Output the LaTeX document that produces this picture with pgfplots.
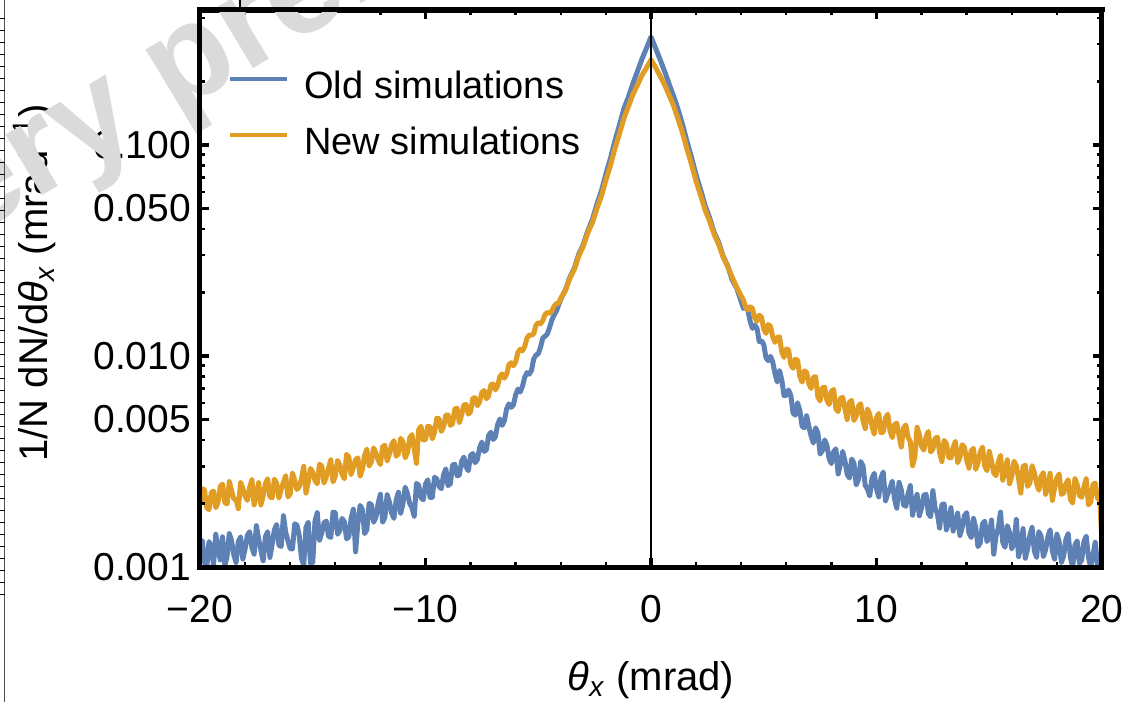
\documentclass[border=0pt]{standalone}
\usepackage{fontspec}
\setmainfont{Liberation Sans}
\usepackage{pgfplots}
\pgfplotsset{compat=1.18}
\usepackage{pgfplotstable}
\definecolor{mblue}{RGB}{94,129,181}
\definecolor{morange}{RGB}{225,156,36}
\definecolor{wmgray}{RGB}{218,218,218}

\pgfplotstableread{
x y
-20.0 0.00122
-19.9 0.00133
-19.8 0.00105
-19.7 0.00100
-19.6 0.00132
-19.5 0.00124
-19.4 0.00102
-19.3 0.00143
-19.2 0.00122
-19.1 0.00108
-19.0 0.00139
-18.9 0.00102
-18.8 0.00112
-18.7 0.00144
-18.6 0.00133
-18.5 0.00114
-18.4 0.00105
-18.3 0.00132
-18.2 0.00139
-18.1 0.00109
-18.0 0.00122
-17.9 0.00141
-17.8 0.00147
-17.7 0.00124
-17.6 0.00115
-17.5 0.00157
-17.4 0.00136
-17.3 0.00120
-17.2 0.00107
-17.1 0.00139
-17.0 0.00147
-16.9 0.00111
-16.8 0.00128
-16.7 0.00150
-16.6 0.00159
-16.5 0.00127
-16.4 0.00125
-16.3 0.00175
-16.2 0.00146
-16.1 0.00133
-16.0 0.00122
-15.9 0.00122
-15.8 0.00160
-15.7 0.00158
-15.6 0.00141
-15.5 0.00110
-15.4 0.00102
-15.3 0.00154
-15.2 0.00163
-15.1 0.00104
-15.0 0.00105
-14.9 0.00165
-14.8 0.00181
-14.7 0.00134
-14.6 0.00145
-14.5 0.00162
-14.4 0.00165
-14.3 0.00140
-14.2 0.00138
-14.1 0.00182
-14.0 0.00181
-13.9 0.00143
-13.8 0.00149
-13.7 0.00170
-13.6 0.00164
-13.5 0.00136
-13.4 0.00139
-13.3 0.00170
-13.2 0.00188
-13.1 0.00118
-13.0 0.00161
-12.9 0.00196
-12.8 0.00187
-12.7 0.00144
-12.6 0.00150
-12.5 0.00200
-12.4 0.00198
-12.3 0.00163
-12.2 0.00172
-12.1 0.00200
-12.0 0.00221
-11.9 0.00163
-11.8 0.00172
-11.7 0.00220
-11.6 0.00203
-11.5 0.00180
-11.4 0.00170
-11.3 0.00208
-11.2 0.00226
-11.1 0.00180
-11.0 0.00200
-10.9 0.00239
-10.8 0.00223
-10.7 0.00200
-10.6 0.00191
-10.5 0.00174
-10.4 0.00249
-10.3 0.00244
-10.2 0.00213
-10.1 0.00208
-10.0 0.00247
-9.9 0.00259
-9.8 0.00214
-9.7 0.00214
-9.6 0.00266
-9.5 0.00262
-9.4 0.00241
-9.3 0.00235
-9.2 0.00273
-9.1 0.00292
-9.0 0.00243
-8.9 0.00248
-8.8 0.00304
-8.7 0.00307
-8.6 0.00271
-8.5 0.00272
-8.4 0.00316
-8.3 0.00332
-8.2 0.00298
-8.1 0.00286
-8.0 0.00338
-7.9 0.00345
-7.8 0.00312
-7.7 0.00323
-7.6 0.00367
-7.5 0.00391
-7.4 0.00353
-7.3 0.00359
-7.2 0.00420
-7.1 0.00435
-7.0 0.00402
-6.9 0.00414
-6.8 0.00474
-6.7 0.00503
-6.6 0.00469
-6.5 0.00494
-6.4 0.00563
-6.3 0.00593
-6.2 0.00571
-6.1 0.00586
-6.0 0.00656
-5.9 0.00697
-5.8 0.00675
-5.7 0.00718
-5.6 0.00793
-5.5 0.00834
-5.4 0.00820
-5.3 0.00854
-5.2 0.00968
-5.1 0.0101
-5.0 0.01024
-4.9 0.0110
-4.8 0.01215
-4.7 0.0124
-4.6 0.0127
-4.5 0.0136
-4.4 0.0148
-4.3 0.0156
-4.2 0.0163
-4.1 0.0174
-4.0 0.0186
-3.8 0.0205
-3.6 0.0236
-3.4 0.0261
-3.2 0.0304
-3.0 0.0338
-2.8 0.0392
-2.6 0.0443
-2.4 0.0523
-2.2 0.0605
-2.0 0.0729
-1.8 0.0862
-1.6 0.1045
-1.4 0.124
-1.2 0.1485
-1.0 0.169
-0.8 0.1955
-0.6 0.2235
-0.4 0.2555
-0.2 0.2875
0.0 0.325
0.2 0.288
0.4 0.2545
0.6 0.224
0.8 0.1948
1.0 0.1705
1.2 0.1475
1.4 0.1248
1.6 0.1036
1.8 0.0871
2.0 0.0720
2.2 0.0614
2.4 0.0516
2.6 0.0451
2.8 0.0385
3.0 0.0346
3.2 0.0297
3.4 0.0268
3.6 0.0229
3.8 0.0210
4.0 0.0181
4.1 0.0168
4.2 0.0171
4.3 0.0164
4.4 0.01455
4.5 0.0135
4.6 0.0140
4.7 0.01355
4.8 0.0117
4.9 0.0118
5.0 0.01133
5.1 0.0098
5.2 0.0095
5.3 0.00996
5.4 0.00935
5.5 0.00825
5.6 0.00753
5.7 0.00853
5.8 0.0077
5.9 0.00649
6.0 0.0065
6.1 0.0069
6.2 0.00651
6.3 0.00536
6.4 0.00524
6.5 0.0060
6.6 0.00551
6.7 0.00465
6.8 0.00456
6.9 0.00521
7.0 0.00464
7.1 0.00418
7.2 0.00387
7.3 0.00457
7.4 0.00432
7.5 0.00343
7.6 0.00357
7.7 0.0040
7.8 0.00378
7.9 0.00326
8.0 0.00309
8.1 0.00352
8.2 0.00363
8.3 0.00276
8.4 0.00307
8.5 0.00353
8.6 0.00319
8.7 0.00275
8.8 0.00264
8.9 0.00325
9.0 0.00310
9.1 0.00245
9.2 0.00260
9.3 0.00316
9.4 0.00302
9.5 0.00244
9.6 0.00234
9.7 0.00217
9.8 0.00263
9.9 0.00278
10.0 0.00234
10.1 0.00215
10.2 0.00265
10.3 0.00282
10.4 0.00206
10.5 0.00222
10.6 0.00236
10.7 0.00255
10.8 0.00210
10.9 0.00190
11.0 0.00252
11.1 0.00232
11.2 0.00197
11.3 0.00194
11.4 0.00222
11.5 0.00243
11.6 0.00176
11.7 0.00201
11.8 0.00221
11.9 0.00175
12.0 0.00191
12.1 0.00219
12.2 0.00221
12.3 0.00179
12.4 0.00173
12.5 0.00230
12.6 0.00190
12.7 0.00179
12.8 0.00153
12.9 0.00198
13.0 0.00199
13.1 0.00150
13.2 0.00163
13.3 0.00191
13.4 0.00148
13.5 0.00162
13.6 0.00180
13.7 0.00141
13.8 0.00154
13.9 0.00175
14.0 0.00181
14.1 0.00145
14.2 0.00138
14.3 0.00170
14.4 0.00154
14.5 0.00125
14.6 0.00130
14.7 0.00160
14.8 0.00165
14.9 0.00132
15.0 0.00140
15.1 0.00167
15.2 0.00115
15.3 0.00140
15.4 0.00153
15.5 0.00182
15.6 0.00131
15.7 0.00124
15.8 0.00157
15.9 0.00146
16.0 0.00122
16.1 0.00130
16.2 0.00168
16.3 0.00112
16.4 0.00125
16.5 0.00152
16.6 0.00110
16.7 0.00122
16.8 0.00141
16.9 0.00154
17.0 0.00119
17.1 0.00111
17.2 0.00147
17.3 0.00140
17.4 0.00112
17.5 0.00121
17.6 0.00139
17.7 0.00150
17.8 0.00119
17.9 0.00109
18.0 0.00143
18.1 0.00132
18.2 0.00105
18.3 0.00113
18.4 0.00135
18.5 0.00144
18.6 0.00111
18.7 0.00100
18.8 0.00127
18.9 0.00133
19.0 0.00104
19.1 0.00108
19.2 0.00132
19.3 0.00140
19.4 0.00111
19.5 0.00100
19.6 0.00114
19.7 0.00131
19.8 0.00103
19.9 0.00107
20.0 0.00093
}\oldsim

\pgfplotstableread{
x y
-20.0 0.00199
-19.9 0.00235
-19.8 0.00232
-19.7 0.00191
-19.6 0.00187
-19.5 0.00225
-19.4 0.00229
-19.3 0.00191
-19.2 0.00203
-19.1 0.00241
-19.0 0.00247
-18.9 0.00202
-18.8 0.00199
-18.7 0.00254
-18.6 0.00230
-18.5 0.00210
-18.4 0.00209
-18.3 0.00189
-18.2 0.00252
-18.1 0.00236
-18.0 0.00216
-17.9 0.00207
-17.8 0.00238
-17.7 0.00259
-17.6 0.00197
-17.5 0.00219
-17.4 0.00251
-17.3 0.00197
-17.2 0.00217
-17.1 0.00248
-17.0 0.00262
-16.9 0.00215
-16.8 0.00213
-16.7 0.00261
-16.6 0.00249
-16.5 0.00212
-16.4 0.00233
-16.3 0.00252
-16.2 0.00271
-16.1 0.00215
-16.0 0.00222
-15.9 0.00279
-15.8 0.00258
-15.7 0.00233
-15.6 0.00240
-15.5 0.00262
-15.4 0.00300
-15.3 0.00224
-15.2 0.00253
-15.1 0.00293
-15.0 0.00281
-14.9 0.00257
-14.8 0.00248
-14.7 0.00307
-14.6 0.00301
-14.5 0.00250
-14.4 0.00267
-14.3 0.00294
-14.2 0.00322
-14.1 0.00253
-14.0 0.00269
-13.9 0.00320
-13.8 0.00305
-13.7 0.00275
-13.6 0.00262
-13.5 0.00342
-13.4 0.00332
-13.3 0.00274
-13.2 0.00297
-13.1 0.00323
-13.0 0.00329
-12.9 0.00269
-12.8 0.00290
-12.7 0.00338
-12.6 0.00362
-12.5 0.00301
-12.4 0.00315
-12.3 0.00367
-12.2 0.00346
-12.1 0.00321
-12.0 0.00306
-11.9 0.00373
-11.8 0.00377
-11.7 0.00318
-11.6 0.00343
-11.5 0.00381
-11.4 0.00397
-11.3 0.00335
-11.2 0.00344
-11.1 0.00407
-11.0 0.00393
-10.9 0.00329
-10.8 0.00348
-10.7 0.00410
-10.6 0.00424
-10.5 0.00362
-10.4 0.00310
-10.3 0.00448
-10.2 0.00464
-10.1 0.00400
-10.0 0.00401
-9.9 0.00464
-9.8 0.00463
-9.7 0.00405
-9.6 0.00436
-9.5 0.00507
-9.4 0.00505
-9.3 0.00439
-9.2 0.00462
-9.1 0.00524
-9.0 0.00525
-8.9 0.00469
-8.8 0.00477
-8.7 0.00562
-8.6 0.00565
-8.5 0.00483
-8.4 0.00524
-8.3 0.00586
-8.2 0.00589
-8.1 0.00530
-8.0 0.00545
-7.9 0.00631
-7.8 0.00634
-7.7 0.00581
-7.6 0.00607
-7.5 0.00672
-7.4 0.00686
-7.3 0.00627
-7.2 0.00647
-7.1 0.00730
-7.0 0.00736
-6.9 0.00691
-6.8 0.00723
-6.7 0.00799
-6.6 0.00823
-6.5 0.00785
-6.4 0.00821
-6.3 0.00909
-6.2 0.00929
-6.1 0.00898
-6.0 0.00939
-5.9 0.0104
-5.8 0.01076
-5.7 0.01057
-5.6 0.0111
-5.5 0.01215
-5.4 0.01257
-5.3 0.01254
-5.2 0.01274
-5.1 0.0140
-5.0 0.01438
-4.9 0.0142
-4.8 0.0147
-4.7 0.0157
-4.6 0.0161
-4.5 0.0159
-4.4 0.0163
-4.3 0.0172
-4.2 0.0177
-4.1 0.0178
-4.0 0.0188
-3.8 0.0204
-3.6 0.0233
-3.4 0.0257
-3.2 0.0298
-3.0 0.0332
-2.8 0.0384
-2.6 0.0428
-2.4 0.0499
-2.2 0.0571
-2.0 0.0681
-1.8 0.0799
-1.6 0.0961
-1.4 0.1128
-1.2 0.1338
-1.0 0.1522
-0.8 0.1738
-0.6 0.1922
-0.4 0.2138
-0.2 0.2322
0.0 0.253
0.2 0.2335
0.4 0.2125
0.6 0.1935
0.8 0.1725
1.0 0.1535
1.2 0.1325
1.4 0.1139
1.6 0.0951
1.8 0.0808
2.0 0.0672
2.2 0.0578
2.4 0.0492
2.6 0.0435
2.8 0.0377
3.0 0.0338
3.2 0.0294
3.4 0.0266
3.6 0.0236
3.8 0.0212
4.0 0.0192
4.1 0.0184
4.2 0.0170
4.3 0.0165
4.4 0.0171
4.5 0.0168
4.6 0.0152
4.7 0.0146
4.8 0.0156
4.9 0.0153
5.0 0.0134
5.1 0.0128
5.2 0.0141
5.3 0.0138
5.4 0.0123
5.5 0.0116
5.6 0.0123
5.7 0.0123
5.8 0.01045
5.9 0.00984
6.0 0.0108
6.1 0.0107
6.2 0.00912
6.3 0.00874
6.4 0.00965
6.5 0.00956
6.6 0.0080
6.7 0.00752
6.8 0.0085
6.9 0.00837
7.0 0.00739
7.1 0.00702
7.2 0.00792
7.3 0.00798
7.4 0.00639
7.5 0.00612
7.6 0.00707
7.7 0.00712
7.8 0.00618
7.9 0.00589
8.0 0.0068
8.1 0.00694
8.2 0.00561
8.3 0.00545
8.4 0.0063
8.5 0.00637
8.6 0.00563
8.7 0.0050
8.8 0.00604
8.9 0.00616
9.0 0.00495
9.1 0.00518
9.2 0.00578
9.3 0.00594
9.4 0.00494
9.5 0.00453
9.6 0.00561
9.7 0.0053
9.8 0.00465
9.9 0.00426
10.0 0.0051
10.1 0.00534
10.2 0.00432
10.3 0.00437
10.4 0.00508
10.5 0.0053
10.6 0.00442
10.7 0.0041
10.8 0.00473
10.9 0.00481
11.0 0.00418
11.1 0.0037
11.2 0.00456
11.3 0.00471
11.4 0.00412
11.5 0.00392
11.6 0.00302
11.7 0.00332
11.8 0.00459
11.9 0.00425
12.0 0.00372
12.1 0.00358
12.2 0.00415
12.3 0.00439
12.4 0.00351
12.5 0.00362
12.6 0.00407
12.7 0.00413
12.8 0.00348
12.9 0.00316
13.0 0.00398
13.1 0.00384
13.2 0.00331
13.3 0.00329
13.4 0.00369
13.5 0.00394
13.6 0.00312
13.7 0.00331
13.8 0.0038
13.9 0.00369
14.0 0.00323
14.1 0.00294
14.2 0.00355
14.3 0.00365
14.4 0.0029
14.5 0.00312
14.6 0.00351
14.7 0.0037
14.8 0.00301
14.9 0.00286
15.0 0.00353
15.1 0.00318
15.2 0.00279
15.3 0.00271
15.4 0.00314
15.5 0.00338
15.6 0.00258
15.7 0.00283
15.8 0.00322
15.9 0.00248
16.0 0.0027
16.1 0.00317
16.2 0.00302
16.3 0.00262
16.4 0.00224
16.5 0.0030
16.6 0.00304
16.7 0.00241
16.8 0.0025
16.9 0.00302
17.0 0.0028
17.1 0.00249
17.2 0.00231
17.3 0.00269
17.4 0.0028
17.5 0.00221
17.6 0.00242
17.7 0.00278
17.8 0.00207
17.9 0.00238
18.0 0.00265
18.1 0.00276
18.2 0.00221
18.3 0.00224
18.4 0.00248
18.5 0.00259
18.6 0.00209
18.7 0.00201
18.8 0.00263
18.9 0.00245
19.0 0.00218
19.1 0.00214
19.2 0.0024
19.3 0.00262
19.4 0.00197
19.5 0.00203
19.6 0.00246
19.7 0.0025
19.8 0.00211
19.9 0.0021
20.0 0.0013
}\newsim

\begin{document}
\begin{tikzpicture}
\useasboundingbox (-100pt,-67.5pt) rectangle (463pt,283.5pt);
\begin{axis}[
  at={(0pt,0pt)}, anchor=south west,
  scale only axis, width=451pt, height=278.5pt,
  xmin=-20, xmax=20, ymode=log, ymin=0.001, ymax=0.436,
  axis on top,
  axis line style={line width=2.5pt, line cap=rect},
  xtick={-20,-10,0,10,20}, xticklabels={−20,−10,0,10,20},
  minor xtick={-18,-16,-14,-12,-8,-6,-4,-2,2,4,6,8,12,14,16,18},
  ytick={0.001,0.005,0.01,0.05,0.1}, yticklabels={0.001,0.005,0.010,0.050,0.100},
  minor ytick={0.002,0.003,0.004,0.006,0.007,0.008,0.009,0.02,0.03,0.04,0.06,0.07,0.08,0.09,0.2,0.3,0.4},
  tick align=inside, xtick pos=both, ytick pos=both,
  xticklabel pos=bottom, yticklabel pos=left,
  major tick length=4.5pt, minor tick length=2.5pt,
  major tick style={black, line width=1.6pt},
  minor tick style={black, line width=1.2pt},
  tick label style={font=\fontsize{19.5}{19.5}\selectfont},
  xticklabel style={yshift=-10.5pt},
  yticklabel style={xshift=-1pt},
  xlabel={\textit{θ}\textsubscript{\textit{x}} (mrad)},
  ylabel={1/N dN/d\textit{θ}\textsubscript{\textit{x}} (mrad\textsuperscript{−1})},
  label style={font=\fontsize{20}{20}\selectfont},
  xlabel style={at={(axis description cs:0.5,-0.203)}, anchor=center},
  ylabel style={at={(axis description cs:-0.183,0.51)}, anchor=center},
  legend style={draw=none, fill=none, at={(axis description cs:0.031,0.892)}, anchor=north west,
    inner sep=0pt, row sep=13pt, column sep=7.5pt, font=\fontsize{19}{19}\selectfont,
    nodes={inner sep=0pt}},
  legend cell align=left,
  legend image code/.code={\draw[#1, line width=2pt] (0pt,0.36em) -- (28.5pt,0.36em);},
]
\addplot[mblue, line width=2.5pt, line join=round] table[x=x, y=y] {\oldsim};
\addlegendentry{Old simulations}
\addplot[morange, line width=2.5pt, line join=round] table[x=x, y=y] {\newsim};
\addlegendentry{New simulations}
\addplot[black, line width=0.75pt, forget plot] coordinates {(0,0.001) (0,0.436)};
\end{axis}
\node[rotate=31, anchor=base west, text=wmgray, inner sep=0pt,
  font=\fontsize{67}{67}\bfseries\selectfont] at (-150pt,143pt) {Very preliminary};
\draw[line width=2.5pt, line cap=rect] (0pt,0pt) -- (0pt,278.5pt) -- (451pt,278.5pt);
\draw[line width=1pt] (20pt,278.5pt) -- (20pt,283.5pt);
\draw[line width=0.5pt, black!70] (-97.5pt,-67.5pt) -- (-97.5pt,283.5pt);
\foreach \t in {-14,-8,...,274} \draw[line width=0.5pt] (-100pt,\t pt) -- (-97.5pt,\t pt);
\end{tikzpicture}
\end{document}
